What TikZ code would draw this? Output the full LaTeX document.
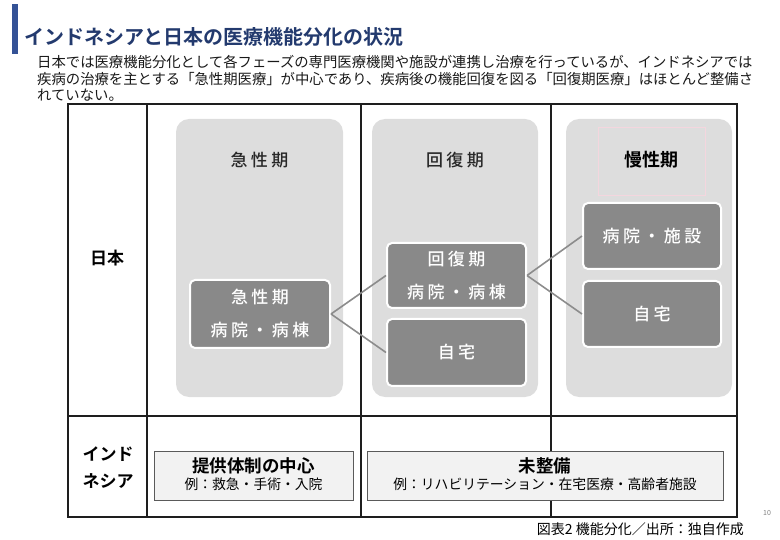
\documentclass[tikz,border=0pt]{standalone}
\usepackage{fontspec}
\setmainfont{Noto Sans CJK JP}[BoldFont={Noto Sans CJK JP Bold}]
\newfontfamily\jpls[LetterSpace=20]{Noto Sans CJK JP Medium}
\definecolor{barblue}{RGB}{52,82,150}
\definecolor{titleblue}{RGB}{35,58,110}
\definecolor{panelgray}{RGB}{221,221,221}
\definecolor{boxgray}{RGB}{137,137,137}
\definecolor{conngray}{RGB}{140,140,140}
\definecolor{lboxfill}{RGB}{242,242,242}
\definecolor{lboxline}{RGB}{90,90,90}
\definecolor{tblline}{RGB}{30,30,30}
\definecolor{pinkline}{RGB}{244,214,222}
\definecolor{hdrtext}{RGB}{40,40,40}
\tikzset{
  tbl/.style={draw=tblline, line width=1.3pt},
  panel/.style={fill=panelgray, rounded corners=13pt},
  darkbox/.style={draw=white, line width=2pt, fill=boxgray, rounded corners=5pt,
    text=white, align=center, inner sep=0pt, font=\jpls\fontsize{17}{33}\selectfont},
  hdr/.style={text=hdrtext, inner sep=0pt, font=\jpls\fontsize{17}{20}\selectfont},
  conn/.style={draw=conngray, line width=1.6pt},
  lbox/.style={draw=lboxline, line width=1pt, fill=lboxfill, inner sep=0pt},
  rowlabel/.style={inner sep=0pt, align=center, font=\bfseries\fontsize{17}{27}\selectfont},
  bodytxt/.style={anchor=base west, inner sep=0pt, text=black!90, font=\fontsize{14.35}{16}\selectfont},
}
\begin{document}
\begin{tikzpicture}[x=1pt,y=-1pt]
\useasboundingbox (0,0) rectangle (780,540);
\fill[barblue] (12,4) rectangle (18,54);
\node[anchor=west, inner sep=0pt, text=titleblue, font=\bfseries\fontsize{20}{24}\selectfont] (title) at (24,37) {インドネシアと日本の医療機能分化の状況};
\node[bodytxt] (t1) at (37,68) {日本では医療機能分化として各フェーズの専門医療機関や施設が連携し治療を行っているが、インドネシアでは};
\node[bodytxt] (t2) at (37,85) {疾病の治療を主とする「急性期医療」が中心であり、疾病後の機能回復を図る「回復期医療」はほとんど整備さ};
\node[bodytxt] (t3) at (37,101) {れていない。};
% table
\draw[tbl] (68,104) rectangle (737,517);
\draw[tbl] (68,416) -- (737,416);
\draw[tbl] (147,104) -- (147,517);
\draw[tbl] (361,104) -- (361,517);
\draw[tbl] (551,104) -- (551,517);
% panels
\fill[panel] (176,119) rectangle (343,397);
\fill[panel] (372,119) rectangle (538,397);
\fill[panel] (566,119) rectangle (732,397);
\draw[pinkline, line width=0.6pt] (598,127) rectangle (705,195);
\node[hdr] (h1) at (259.5,160) {急性期};
\node[hdr] (h2) at (455,160) {回復期};
\node[inner sep=0pt, text=black, font=\bfseries\fontsize{18}{20}\selectfont] (h3) at (651,160) {慢性期};
% dark boxes
\node[darkbox, minimum width=140pt, minimum height=68pt] (a) at (260,314) {急性期\\病院・病棟};
\node[darkbox, minimum width=139pt, minimum height=65pt] (b) at (456.5,275.5) {回復期\\病院・病棟};
\node[darkbox, minimum width=139pt, minimum height=67pt] (c) at (456.5,352.5) {自宅};
\node[darkbox, minimum width=138pt, minimum height=66pt] (d) at (652,236) {病院・施設};
\node[darkbox, minimum width=138pt, minimum height=66pt] (e) at (652,314) {自宅};
\draw[conn] (a.east) -- (b.west);
\draw[conn] (a.east) -- (c.west);
\draw[conn] (b.east) -- (d.west);
\draw[conn] (b.east) -- (e.west);
% row labels
\node[rowlabel] (jp) at (107,258) {日本};
\node[rowlabel] (id) at (108,468) {インド\\ネシア};
% bottom boxes
\node[lbox, minimum width=199pt, minimum height=49pt] (f) at (253.5,475.5) {};
\node[lbox, minimum width=356pt, minimum height=49pt] (g) at (545,475.5) {};
\node[inner sep=0pt, font=\bfseries\fontsize{17.5}{19}\selectfont] (f1) at (253.5,466) {提供体制の中心};
\node[inner sep=0pt, font=\fontsize{13.8}{16}\selectfont] (f2) at (253.5,484) {例：救急・手術・入院};
\node[inner sep=0pt, font=\bfseries\fontsize{17.5}{19}\selectfont] (g1) at (545,466) {未整備};
\node[inner sep=0pt, font=\fontsize{13.8}{16}\selectfont] (g2) at (545,484) {例：リハビリテーション・在宅医療・高齢者施設};
% footer
\node[anchor=east, inner sep=0pt, font=\fontsize{14}{16}\selectfont] (cap) at (744,529) {図表2 機能分化／出所：独自作成};
\node[inner sep=0pt, text=black!50, font=\fontsize{7}{8}\selectfont] (pg) at (767,513) {10};
\end{tikzpicture}
\end{document}
